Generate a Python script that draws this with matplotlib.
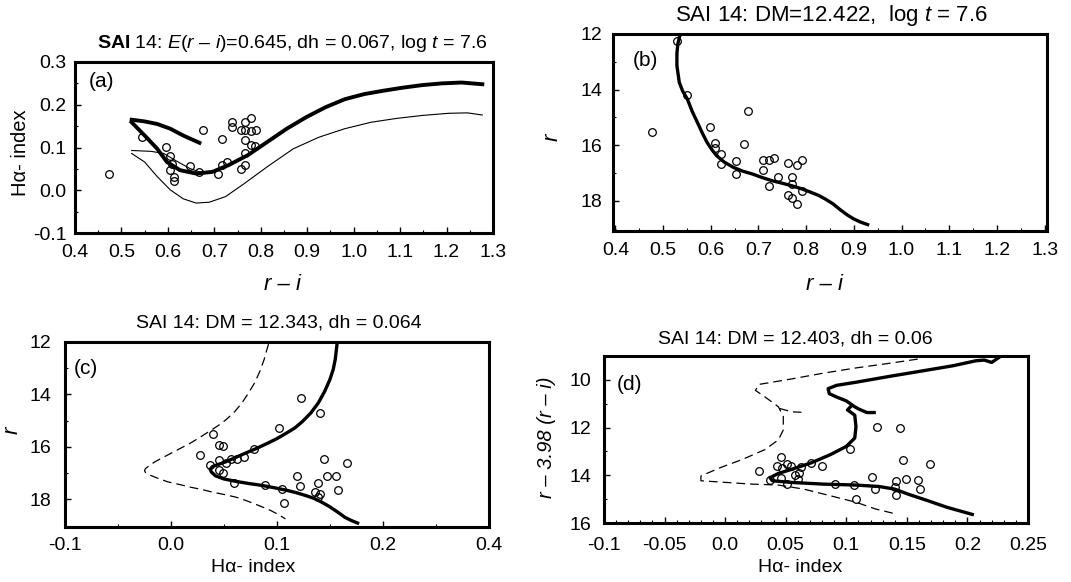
import matplotlib
matplotlib.use("Agg")
import matplotlib.pyplot as plt
from matplotlib.ticker import MultipleLocator

plt.rcParams["font.family"] = ["Liberation Sans", "DejaVu Sans"]
plt.rcParams["mathtext.fontset"] = "custom"
plt.rcParams["mathtext.rm"] = "Liberation Sans"
plt.rcParams["mathtext.it"] = "Liberation Sans:italic"
plt.rcParams["mathtext.bf"] = "Liberation Sans:bold"
plt.rcParams["axes.unicode_minus"] = False

W, H = 1071, 582

# ---- panel (a): Halpha index vs r-i
a_star_ri = [0.473, 0.544, 0.595, 0.605, 0.605, 0.614, 0.614, 0.647, 0.667, 0.676,
             0.708, 0.717, 0.717, 0.727, 0.738, 0.738, 0.758, 0.758, 0.767, 0.767,
             0.778, 0.767, 0.779, 0.790, 0.767, 0.778, 0.788, 0.767, 0.608]
a_star_ha = [0.038, 0.124, 0.101, 0.080, 0.047, 0.032, 0.022, 0.056, 0.042, 0.140,
             0.039, 0.121, 0.059, 0.066, 0.159, 0.148, 0.140, 0.049, 0.059, 0.159,
             0.169, 0.140, 0.138, 0.142, 0.117, 0.107, 0.104, 0.088, 0.062]
a_thick_ri = [0.522, 0.550, 0.577, 0.598, 0.626, 0.661, 0.696, 0.731, 0.772, 0.814,
              0.856, 0.898, 0.939, 0.981, 1.023, 1.065, 1.106, 1.148, 1.190, 1.232, 1.277]
a_thick_ha = [0.159, 0.128, 0.097, 0.066, 0.047, 0.039, 0.043, 0.059, 0.082, 0.113,
              0.144, 0.171, 0.194, 0.213, 0.225, 0.233, 0.240, 0.246, 0.250, 0.252, 0.248]
a_branch_ri = [0.522, 0.550, 0.577, 0.605, 0.633, 0.668]
a_branch_ha = [0.165, 0.161, 0.155, 0.144, 0.128, 0.111]
a_thinup_ri = [0.522, 0.564, 0.591, 0.619, 0.647, 0.668]
a_thinup_ha = [0.093, 0.091, 0.086, 0.068, 0.051, 0.043]
a_thinlo_ri = [0.522, 0.550, 0.577, 0.605, 0.633, 0.661, 0.689, 0.724, 0.765, 0.814,
               0.870, 0.925, 0.981, 1.037, 1.092, 1.148, 1.204, 1.245, 1.277]
a_thinlo_ha = [0.086, 0.066, 0.032, 0.001, -0.020, -0.030, -0.028, -0.015, 0.016, 0.055,
               0.097, 0.124, 0.144, 0.159, 0.168, 0.175, 0.180, 0.181, 0.176]

# ---- panel (b): r vs r-i
b_star_ri = [0.529, 0.550, 0.477, 0.599, 0.679, 0.609, 0.609, 0.621, 0.621, 0.652,
             0.652, 0.670, 0.710, 0.722, 0.732, 0.710, 0.741, 0.722, 0.761, 0.781,
             0.792, 0.771, 0.771, 0.761, 0.771, 0.781, 0.792]
b_star_r = [12.24, 14.19, 15.53, 15.34, 14.77, 15.93, 16.11, 16.31, 16.67, 16.58,
            17.03, 15.97, 16.53, 16.53, 16.46, 16.89, 17.15, 17.48, 16.64, 16.70,
            16.53, 17.15, 17.39, 17.78, 17.90, 18.11, 17.63]
b_iso_ri = [0.536, 0.531, 0.529, 0.529, 0.534, 0.541, 0.551, 0.561, 0.572, 0.582,
            0.592, 0.602, 0.612, 0.628, 0.647, 0.667, 0.687, 0.708, 0.728, 0.749,
            0.769, 0.790, 0.810, 0.826, 0.840, 0.856, 0.871, 0.886, 0.899, 0.914, 0.929]
b_iso_r = [12.0, 12.35, 12.7, 13.14, 13.74, 14.05, 14.34, 14.78, 15.18, 15.55,
           15.89, 16.15, 16.37, 16.60, 16.79, 16.93, 17.03, 17.16, 17.27, 17.36,
           17.45, 17.56, 17.69, 17.80, 17.93, 18.10, 18.31, 18.50, 18.64, 18.76, 18.85]

# ---- panel (c): r vs Halpha index
c_star_ha = [0.123, 0.141, 0.102, 0.040, 0.045, 0.049, 0.027, 0.078, 0.069, 0.062,
             0.057, 0.052, 0.045, 0.037, 0.045, 0.049, 0.059, 0.089, 0.105, 0.107,
             0.119, 0.122, 0.139, 0.136, 0.141, 0.139, 0.144, 0.147, 0.156, 0.158, 0.166]
c_star_r = [14.14, 14.72, 15.27, 15.50, 15.92, 15.95, 16.31, 16.08, 16.40, 16.47,
            16.44, 16.63, 16.50, 16.67, 16.88, 16.99, 17.37, 17.46, 17.59, 18.13,
            17.12, 17.50, 17.36, 17.72, 17.81, 17.91, 16.46, 17.12, 17.12, 17.65, 16.63]
c_iso_ha = [0.157, 0.156, 0.155, 0.153, 0.150, 0.145, 0.139, 0.132, 0.124, 0.117,
            0.109, 0.100, 0.091, 0.081, 0.070, 0.061, 0.052, 0.045, 0.039, 0.037,
            0.038, 0.042, 0.050, 0.061, 0.073, 0.085, 0.097, 0.109, 0.118, 0.127,
            0.135, 0.142, 0.149, 0.155, 0.160, 0.164, 0.170, 0.176]
c_iso_r = [11.95, 12.30, 12.65, 13.05, 13.42, 13.88, 14.32, 14.70, 15.03, 15.27,
           15.47, 15.68, 15.86, 16.05, 16.24, 16.40, 16.56, 16.66, 16.75, 16.85,
           16.95, 17.10, 17.22, 17.31, 17.39, 17.46, 17.55, 17.65, 17.74, 17.85,
           17.96, 18.10, 18.26, 18.42, 18.56, 18.68, 18.80, 18.90]
c_dash_ha = [0.092, 0.090, 0.088, 0.084, 0.079, 0.073, 0.067, 0.060, 0.052, 0.044,
             0.036, 0.027, 0.018, 0.009, 0.0, -0.008, -0.015, -0.020, -0.024, -0.025,
             -0.024, -0.020, -0.012, -0.003, 0.008, 0.018, 0.029, 0.039, 0.050, 0.061,
             0.070, 0.079, 0.087, 0.094, 0.101, 0.108]
c_dash_r = [12.08, 12.35, 12.65, 13.10, 13.55, 13.95, 14.32, 14.66, 14.96, 15.20,
            15.41, 15.64, 15.86, 16.05, 16.24, 16.41, 16.56, 16.70, 16.82, 16.90,
            16.98, 17.07, 17.20, 17.33, 17.43, 17.53, 17.62, 17.72, 17.81, 17.91,
            18.03, 18.17, 18.30, 18.42, 18.57, 18.74]

# ---- panel (d): r - 3.98(r-i) vs Halpha index
d_star_ha = [0.028, 0.046, 0.043, 0.051, 0.047, 0.054, 0.058, 0.061, 0.063, 0.046,
             0.051, 0.060, 0.071, 0.080, 0.103, 0.125, 0.144, 0.147, 0.169, 0.121,
             0.141, 0.149, 0.159, 0.161, 0.140, 0.141, 0.124, 0.091, 0.106, 0.108, 0.037]
d_star_q = [13.82, 13.24, 13.59, 13.54, 13.68, 13.61, 14.00, 13.92, 13.64, 14.10,
            14.37, 14.17, 13.48, 13.61, 12.90, 11.96, 12.00, 13.34, 13.54, 14.06,
            14.23, 14.14, 14.19, 14.58, 14.51, 14.83, 14.58, 14.37, 14.40, 14.99, 14.19]
d_isoup_ha = [0.226, 0.220, 0.214, 0.207, 0.188, 0.161, 0.135, 0.108, 0.092, 0.085,
              0.086, 0.092, 0.100, 0.107, 0.111, 0.117, 0.123]
d_isoup_q = [9.06, 9.27, 9.17, 9.20, 9.41, 9.64, 9.86, 10.10, 10.23, 10.37,
             10.58, 10.72, 10.88, 11.13, 11.24, 11.37, 11.37]
d_isolo_ha = [0.104, 0.101, 0.107, 0.108, 0.107, 0.100, 0.087, 0.071, 0.055, 0.044,
              0.037, 0.039, 0.055, 0.081, 0.108, 0.127, 0.140, 0.151, 0.167, 0.183, 0.204]
d_isolo_q = [11.10, 11.26, 11.48, 11.96, 12.44, 12.79, 13.13, 13.48, 13.75, 13.92,
             14.10, 14.23, 14.30, 14.37, 14.41, 14.47, 14.58, 14.79, 15.06, 15.34, 15.64]
d_dash_ha = [0.159, 0.135, 0.108, 0.081, 0.055, 0.028, 0.025, 0.033, 0.044, 0.048,
             0.048, 0.044, 0.033, 0.014, -0.004, -0.020, -0.020, 0.001, 0.022, 0.044,
             0.065, 0.087, 0.108, 0.124, 0.140]
d_dash_q = [9.13, 9.31, 9.50, 9.72, 9.96, 10.19, 10.44, 10.72, 11.13, 11.54,
            12.10, 12.51, 12.92, 13.34, 13.68, 14.03, 14.23, 14.30, 14.37, 14.41,
            14.58, 14.86, 15.13, 15.41, 15.61]
d_hook_ha = [0.045, 0.055, 0.063]
d_hook_q = [11.20, 11.34, 11.36]


def rect(l, t, r, b):
    return [l / W, 1 - b / H, (r - l) / W, (b - t) / H]


def ftext(x, y, s, **kw):
    fig.text(x / W, 1 - y / H, s, ha="center", va="center", **kw)


def style(ax, xpad, ypad):
    for sp in ax.spines.values():
        sp.set_linewidth(2.2)
    ax.tick_params(which="both", direction="in", top=False, right=False)
    ax.tick_params(axis="x", which="major", length=4, width=1, pad=xpad, labelsize=14)
    ax.tick_params(axis="y", which="major", length=4, width=1, pad=ypad, labelsize=14)
    ax.tick_params(which="minor", length=2, width=0.8)


def stars(ax, x, y):
    ax.plot(x, y, "o", mfc="none", mec="black", ms=5.5, mew=0.9, zorder=5)


ri_ticks = [0.4, 0.5, 0.6, 0.7, 0.8, 0.9, 1.0, 1.1, 1.2, 1.3]
ri_labels = ["0.4", "0.5", "0.6", "0.7", "0.8", "0.9", "1.0", "1.1", "1.2", "1.3"]

fig = plt.figure(figsize=(W / 100, H / 100), dpi=100)

# (a)
ax = fig.add_axes(rect(75, 62, 493, 233))
ax.plot(a_thick_ri, a_thick_ha, color="black", lw=2.8)
ax.plot(a_branch_ri, a_branch_ha, color="black", lw=2.8)
ax.plot(a_thinup_ri, a_thinup_ha, color="black", lw=0.8)
ax.plot(a_thinlo_ri, a_thinlo_ha, color="black", lw=0.8)
stars(ax, a_star_ri, a_star_ha)
ax.set_xlim(0.4, 1.3)
ax.set_ylim(-0.1, 0.3)
ax.set_xticks(ri_ticks)
ax.set_xticklabels(ri_labels, fontsize=15)
ax.set_yticks([-0.1, 0.0, 0.1, 0.2, 0.3])
ax.set_yticklabels(["-0.1", "0.0", "0.1", "0.2", "0.3"])
ax.xaxis.set_minor_locator(MultipleLocator(0.05))
ax.yaxis.set_minor_locator(MultipleLocator(0.05))
style(ax, 8, 6)

# (b)
ax = fig.add_axes(rect(613, 34, 1047, 231))
ax.plot(b_iso_ri, b_iso_r, color="black", lw=2.4)
stars(ax, b_star_ri, b_star_r)
ax.set_xlim(0.395, 1.305)
ax.set_ylim(19.08, 12)
ax.set_xticks(ri_ticks)
ax.set_xticklabels(ri_labels, fontsize=15)
ax.set_yticks([12, 14, 16, 18])
ax.xaxis.set_minor_locator(MultipleLocator(0.05))
ax.yaxis.set_minor_locator(MultipleLocator(1))
style(ax, 8, 8)

# (c)
ax = fig.add_axes(rect(65, 342, 489, 527))
ax.plot(c_iso_ha, c_iso_r, color="black", lw=2.4)
ax.plot(c_dash_ha, c_dash_r, color="black", lw=0.9, dashes=(7, 4))
stars(ax, c_star_ha, c_star_r)
ax.set_xlim(-0.1, 0.3)
ax.set_ylim(19.05, 12)
ax.set_xticks([-0.1, 0.0, 0.1, 0.2, 0.3])
ax.set_xticklabels(["-0.1", "0.0", "0.1", "0.2", "0.4"])
ax.set_yticks([12, 14, 16, 18])
ax.xaxis.set_minor_locator(MultipleLocator(0.05))
ax.yaxis.set_minor_locator(MultipleLocator(1))
style(ax, 7, 10)

# (d)
ax = fig.add_axes(rect(604, 356, 1028, 523))
ax.plot(d_isoup_ha, d_isoup_q, color="black", lw=2.4)
ax.plot(d_isolo_ha, d_isolo_q, color="black", lw=2.4)
ax.plot(d_dash_ha, d_dash_q, color="black", lw=0.9, dashes=(7, 4))
ax.plot(d_hook_ha, d_hook_q, color="black", lw=0.9, dashes=(7, 4))
stars(ax, d_star_ha, d_star_q)
ax.set_xlim(-0.1, 0.25)
ax.set_ylim(16, 9)
ax.set_xticks([-0.1, -0.05, 0.0, 0.05, 0.1, 0.15, 0.2, 0.25])
ax.set_xticklabels(["-0.1", "-0.05", "0.0", "0.05", "0.1", "0.15", "0.2", "0.25"])
ax.set_yticks([10, 12, 14, 16])
ax.xaxis.set_minor_locator(MultipleLocator(0.01))
ax.yaxis.set_minor_locator(MultipleLocator(1))
style(ax, 10, 9)

# titles
ftext(292, 43, "$\\mathbf{SAI}$ 14: $\\mathit{E(r}$ \u2013 $\\mathit{i)}$=0.645, dh = 0.067, log $\\mathit{t}$ = 7.6",
      fontsize=14)
ftext(831, 16, r"SAI 14: DM=12.422,  log $\mathit{t}$ = 7.6", fontsize=16)
ftext(279, 323, "SAI 14: DM = 12.343, dh = 0.064", fontsize=14)
ftext(795, 339, "SAI 14: DM = 12.403, dh = 0.06", fontsize=14)

# panel letters
ftext(102, 82, "(a)", fontsize=15)
ftext(645, 60, "(b)", fontsize=15)
ftext(86, 369, "(c)", fontsize=15)
ftext(629, 384, "(d)", fontsize=15)

# axis labels
ftext(20, 153, "H\u03b1- index", fontsize=14.5, rotation=90)
ftext(283, 285, "r \u2013 i", fontsize=16, style="italic")
ftext(552, 137, "r", fontsize=16, style="italic", rotation=90)
ftext(825, 285, "r \u2013 i", fontsize=16, style="italic")
ftext(12, 430, "r", fontsize=16, style="italic", rotation=90)
ftext(253, 568, "H\u03b1- index", fontsize=14)
ftext(547, 437, "r \u2013 3.98 (r \u2013 i)", fontsize=14.5, style="italic", rotation=90)
ftext(800, 568, "H\u03b1- index", fontsize=14)

fig.savefig("out.png", dpi=100)
